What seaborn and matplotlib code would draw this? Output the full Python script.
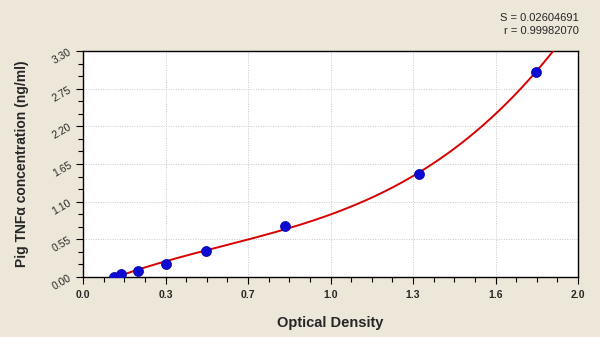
import numpy as np
import pandas as pd
import matplotlib
matplotlib.use("Agg")
import matplotlib.pyplot as plt
import seaborn as sns
from matplotlib.ticker import MultipleLocator, FixedLocator

# Standards
od = [0.125, 0.152, 0.223, 0.336, 0.496, 0.815, 1.359, 1.829]
conc = [0.0, 0.047, 0.094, 0.188, 0.375, 0.75, 1.5, 3.0]

x_ticks = [0.0, 1/3, 2/3, 1.0, 4/3, 5/3, 2.0]
x_tick_labels = ["0.0", "0.3", "0.7", "1.0", "1.3", "1.6", "2.0"]
y_ticks = [0.00, 0.55, 1.10, 1.65, 2.20, 2.75, 3.30]
y_tick_labels = ["0.00", "0.55", "1.10", "1.65", "2.20", "2.75", "3.30"]

stats_text = ["S = 0.02604691", "r = 0.99982070"]

df = pd.DataFrame({"od": od, "conc": conc})

# cubic fit of the standard curve
coef = np.polyfit(od, conc, 3)
fx = np.linspace(min(od), 1.95, 300)
fit = pd.DataFrame({"od": fx, "conc": np.polyval(coef, fx)})

sns.set_theme(style="white")
plt.rcParams["font.family"] = ["Liberation Sans", "DejaVu Sans"]

bg = "#ECE7D9"
fig = plt.figure(figsize=(6.0, 3.37), dpi=100, facecolor=bg)
ax = fig.add_axes([83/600, 1 - 277/337, (578 - 83)/600, (277 - 51)/337])
ax.set_facecolor("white")

sns.lineplot(data=fit, x="od", y="conc", ax=ax, color="#D90000", lw=1.4,
             zorder=3, sort=False)
sns.scatterplot(data=df, x="od", y="conc", ax=ax, color="#0A0AD2", s=52,
                edgecolor="#0000A8", linewidth=0.5, zorder=4)

ax.set_xlim(0, 2.0)
ax.set_ylim(0, 3.30)
ax.xaxis.set_major_locator(FixedLocator(x_ticks))
ax.set_xticklabels(x_tick_labels, fontsize=7.5, fontweight="bold")
ax.xaxis.set_minor_locator(MultipleLocator(1/12))
ax.yaxis.set_major_locator(FixedLocator(y_ticks))
ax.set_yticklabels(y_tick_labels, fontsize=7.5, rotation=30)
ax.yaxis.set_minor_locator(MultipleLocator(0.55/3))

ax.tick_params(axis="both", which="both", direction="out", color="black",
               width=0.8, bottom=True, left=True, top=False, right=False)
ax.tick_params(axis="both", which="major", length=5, pad=2)
ax.tick_params(axis="both", which="minor", length=3.5)
ax.tick_params(axis="x", which="major", pad=4)

ax.grid(True, which="major", color="#C8C8C8", linestyle=(0, (1, 1.5)), lw=0.7)
for sp in ax.spines.values():
    sp.set_color("black")
    sp.set_linewidth(1.0)

ax.set_xlabel("Optical Density", fontsize=10.5, fontweight="bold", labelpad=12)
ax.set_ylabel("Pig TNF\u03b1 concentration (ng/ml)", fontsize=10,
              fontweight="bold")
ax.yaxis.set_label_coords(-(83 - 29)/495, 0.5)

fig.text(579/600, 1 - 18/337, stats_text[0], ha="right", va="center", fontsize=8)
fig.text(579/600, 1 - 31/337, stats_text[1], ha="right", va="center", fontsize=8)

fig.savefig("out.png", dpi=100, facecolor=bg)
